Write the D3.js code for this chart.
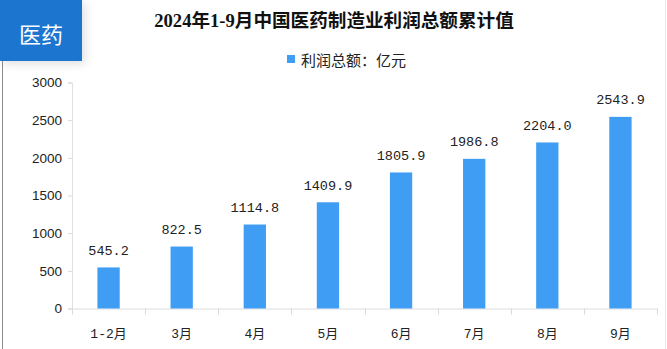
<!DOCTYPE html>
<html><head><meta charset="utf-8">
<script src="https://cdn.jsdelivr.net/npm/d3@7"></script>
<style>html,body{margin:0;padding:0;background:#fff;}svg{display:block;}</style>
</head><body>
<script>
const categories = ["1-2月","3月","4月","5月","6月","7月","8月","9月"];
const profitValues = [545.2, 822.5, 1114.8, 1409.9, 1805.9, 1986.8, 2204.0, 2543.9];
const yTicks = [0, 500, 1000, 1500, 2000, 2500, 3000];
const titleText = "2024年1-9月中国医药制造业利润总额累计值";
const legendText = "利润总额：亿元";
const badgeText = "医药";

const W = 667, H = 349;
const svg = d3.select("body").append("svg").attr("width", W).attr("height", H);

const defs = svg.append("defs");
const f = defs.append("filter").attr("id","sh").attr("x","-30%").attr("y","-30%").attr("width","170%").attr("height","170%");
f.append("feDropShadow").attr("dx",3).attr("dy",3).attr("stdDeviation",5).attr("flood-color","#000").attr("flood-opacity",0.12);

// borders
svg.append("line").attr("x1",2.5).attr("x2",2.5).attr("y1",60).attr("y2",H).attr("stroke","#8c8c8c").attr("stroke-width",1);
svg.append("line").attr("x1",665.5).attr("x2",665.5).attr("y1",0).attr("y2",H).attr("stroke","#e6e6e6").attr("stroke-width",1);

// badge
svg.append("rect").attr("x",0).attr("y",0).attr("width",82).attr("height",61).attr("fill","#1f74cf").attr("filter","url(#sh)");
svg.append("text").attr("x",41).attr("y",33).attr("text-anchor","middle").attr("dominant-baseline","central")
  .attr("fill","#fff").attr("font-family","'Noto Sans CJK SC'").attr("font-size",22).text(badgeText);

// title
svg.append("text").attr("x",334).attr("y",27).attr("text-anchor","middle")
  .attr("font-family","'Liberation Serif','Noto Sans CJK SC'").attr("font-weight","bold").attr("font-size",18.6)
  .attr("fill","#111").text(titleText);

// legend
svg.append("rect").attr("x",287).attr("y",55).attr("width",8).attr("height",8).attr("fill","#3f9ef3");
svg.append("text").attr("x",301).attr("y",59.5).attr("dominant-baseline","central")
  .attr("font-family","'Noto Sans CJK SC'").attr("font-size",15).attr("fill","#222").text(legendText);

const x = d3.scaleBand().domain(categories).range([72, 657]).padding(0);
const y = d3.scaleLinear().domain([0, 3000]).range([308.5, 82.5]);

// y axis
const ya = svg.append("g").attr("transform","translate(72,0)")
  .call(d3.axisLeft(y).tickValues(yTicks).tickSize(4).tickPadding(6).tickFormat(d3.format("d")));
ya.select(".domain").attr("stroke","#e0e0e0");
ya.selectAll(".tick line").attr("stroke","#d9d9d9");
ya.selectAll(".tick text").attr("font-family","'Liberation Sans',Arial,sans-serif").attr("font-size",13.5).attr("fill","#222");

// x axis
const xa = svg.append("g").attr("transform","translate(0,308.5)")
  .call(d3.axisBottom(x).tickSize(0).tickPadding(20));
xa.select(".domain").attr("stroke","#dcdcdc");
xa.selectAll(".tick text").attr("font-family","'Liberation Mono','Noto Sans CJK SC'").attr("font-size",13).attr("fill","#222");
const bounds = categories.map(c => x(c)).concat([x(categories[categories.length-1]) + x.bandwidth()]);
xa.selectAll(".sep").data(bounds).enter().append("line").attr("class","sep")
  .attr("x1",d=>Math.round(d)+0.5).attr("x2",d=>Math.round(d)+0.5).attr("y1",0).attr("y2",6).attr("stroke","#d9d9d9");

// bars
const bw = x.bandwidth()*0.305;
svg.append("g").selectAll("rect").data(profitValues).enter().append("rect")
  .attr("x",(d,i)=>x(categories[i]) + x.bandwidth()/2 - bw/2)
  .attr("y",d=>y(d)).attr("width",bw).attr("height",d=>y(0)-y(d))
  .attr("fill","#3f9ef3");

// labels
svg.append("g").selectAll("text").data(profitValues).enter().append("text")
  .attr("x",(d,i)=>x(categories[i]) + x.bandwidth()/2)
  .attr("y",d=>y(d)-12.5).attr("text-anchor","middle")
  .attr("font-family","'Liberation Mono',monospace").attr("font-size",13.5).attr("fill","#222")
  .text(d=>d.toFixed(1));
</script>
</body></html>
